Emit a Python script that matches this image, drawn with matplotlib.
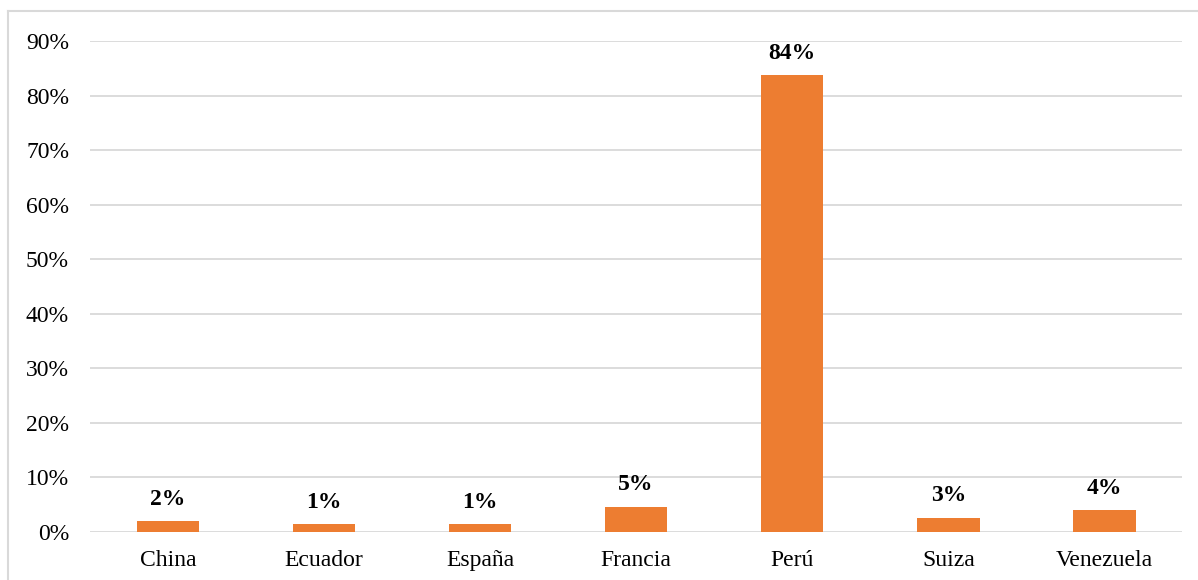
import matplotlib.pyplot as plt
from matplotlib.lines import Line2D
from matplotlib.ticker import FuncFormatter

paises = ["China", "Ecuador", "España", "Francia", "Perú", "Suiza", "Venezuela"]
porcentajes = [0.0196, 0.0135, 0.0135, 0.0464, 0.8375, 0.0263, 0.0397]
etiquetas = ["2%", "1%", "1%", "5%", "84%", "3%", "4%"]
marcas_y = [0, 0.1, 0.2, 0.3, 0.4, 0.5, 0.6, 0.7, 0.8, 0.9]

plt.rcParams['font.family'] = ['Liberation Serif', 'DejaVu Serif']

fig = plt.figure(figsize=(11.98, 5.8), dpi=100)
ax = fig.add_axes([0.075, 0.083, 0.912, 0.846])

x = range(len(paises))
ax.bar(x, porcentajes, width=0.4, color="#ED7D31", zorder=3)

# etiquetas de datos encima de cada barra
for xi, v, txt in zip(x, porcentajes, etiquetas):
    ax.annotate(txt, (xi, v), xytext=(0, 8), textcoords="offset points",
                ha="center", va="bottom", fontsize=17, fontweight="bold")

ax.set_xlim(-0.5, len(paises) - 0.5)
ax.set_ylim(0, 0.9)
ax.set_yticks(marcas_y)
ax.yaxis.set_major_formatter(FuncFormatter(lambda v, p: f"{round(v * 100)}%"))
ax.set_xticks(list(x))
ax.set_xticklabels(paises)
ax.tick_params(axis="both", length=0, labelsize=17)
ax.tick_params(axis="x", pad=13)
ax.tick_params(axis="y", pad=15)
ax.grid(axis="y", color="#D9D9D9", linewidth=1.3, zorder=0)
for s in ax.spines.values():
    s.set_visible(False)

# marco gris del gráfico (arriba e izquierda)
fig.add_artist(Line2D([0.0067, 1.0], [0.981, 0.981], color="#D9D9D9", linewidth=1.5, transform=fig.transFigure))
fig.add_artist(Line2D([0.0067, 0.0067], [0.0, 0.981], color="#D9D9D9", linewidth=1.5, transform=fig.transFigure))

fig.savefig("out.png", dpi=100)
